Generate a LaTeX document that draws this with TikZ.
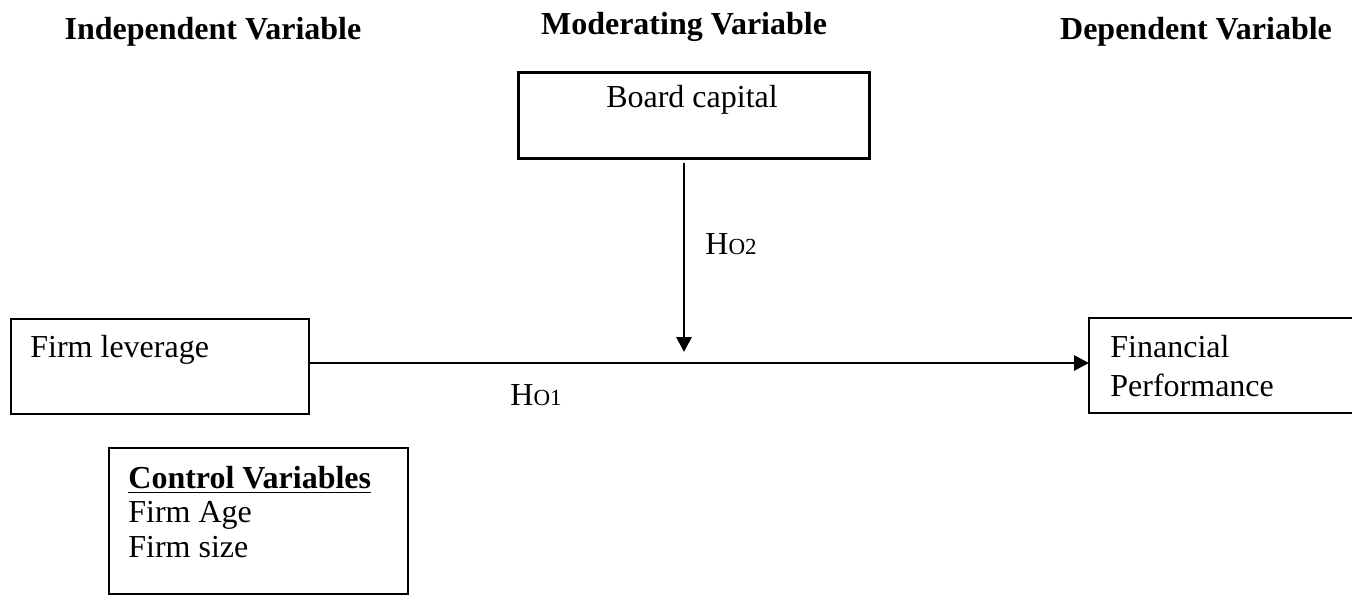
\documentclass[tikz,border=0pt]{standalone}
\usepackage{fontspec}
\setmainfont{Liberation Serif}
\usetikzlibrary{arrows.meta}
\begin{document}
\begin{tikzpicture}[x=0.5pt,y=-0.5pt,
  box/.style={draw,line width=1pt,rectangle,inner sep=0pt,anchor=north west},
  lbl/.style={inner sep=0pt,anchor=west,font=\fontsize{16}{17}\selectfont},
  hdr/.style={inner sep=0pt,font=\fontsize{16}{17}\selectfont\bfseries},
  arr/.style={line width=1.4pt,-{Triangle[length=7.5pt,width=7.5pt]}}]
\useasboundingbox (0,0) rectangle (1352,595);
\clip (0,0) rectangle (1352,595);
\node[hdr] (h1) at (213,32) {Independent Variable};
\node[hdr] (h2) at (684,27) {Moderating Variable};
\node[hdr] (h3) at (1196,32) {Dependent Variable};
% boxes
\node[box,line width=1.3pt,minimum width=175.5pt,minimum height=43pt] (bc) at (517,71) {};
\node[box,minimum width=149pt,minimum height=47.5pt] (fl) at (10,318) {};
\node[box,draw=none,minimum width=145pt,minimum height=46.5pt] (fp) at (1089,318) {};
\draw[line width=1pt] (fp.north east) -- (fp.north west) -- (fp.south west) -- (fp.south east);
\node[box,minimum width=149.5pt,minimum height=73pt] (cv) at (108,447) {};
% texts
\node[lbl,anchor=center] (tbc) at (692,100) {Board capital};
\node[lbl] (tfl) at (30,350) {Firm leverage};
\node[lbl] (tfp1) at (1110,347) {Financial};
\node[lbl] (tfp2) at (1110,385) {Performance};
\node[lbl] (tcv) at (128,480) {\textbf{\underline{Control Variables}}};
\node[lbl] (tcv2) at (128,515) {Firm Age};
\node[lbl] (tcv3) at (128,547) {Firm size};
\node[lbl] (ho2) at (705,244) {H{\fontsize{11.5}{12}\selectfont O2}};
\node[lbl] (ho1) at (510,395) {H{\fontsize{11.5}{12}\selectfont O1}};
% connectors
\coordinate (tip) at (684,352);
\draw[arr] (fl.east |- 0,363) -- (fp.west |- 0,363);
\draw[arr] (tip |- bc.south) ++(0,3) -- (tip);
\end{tikzpicture}
\end{document}
